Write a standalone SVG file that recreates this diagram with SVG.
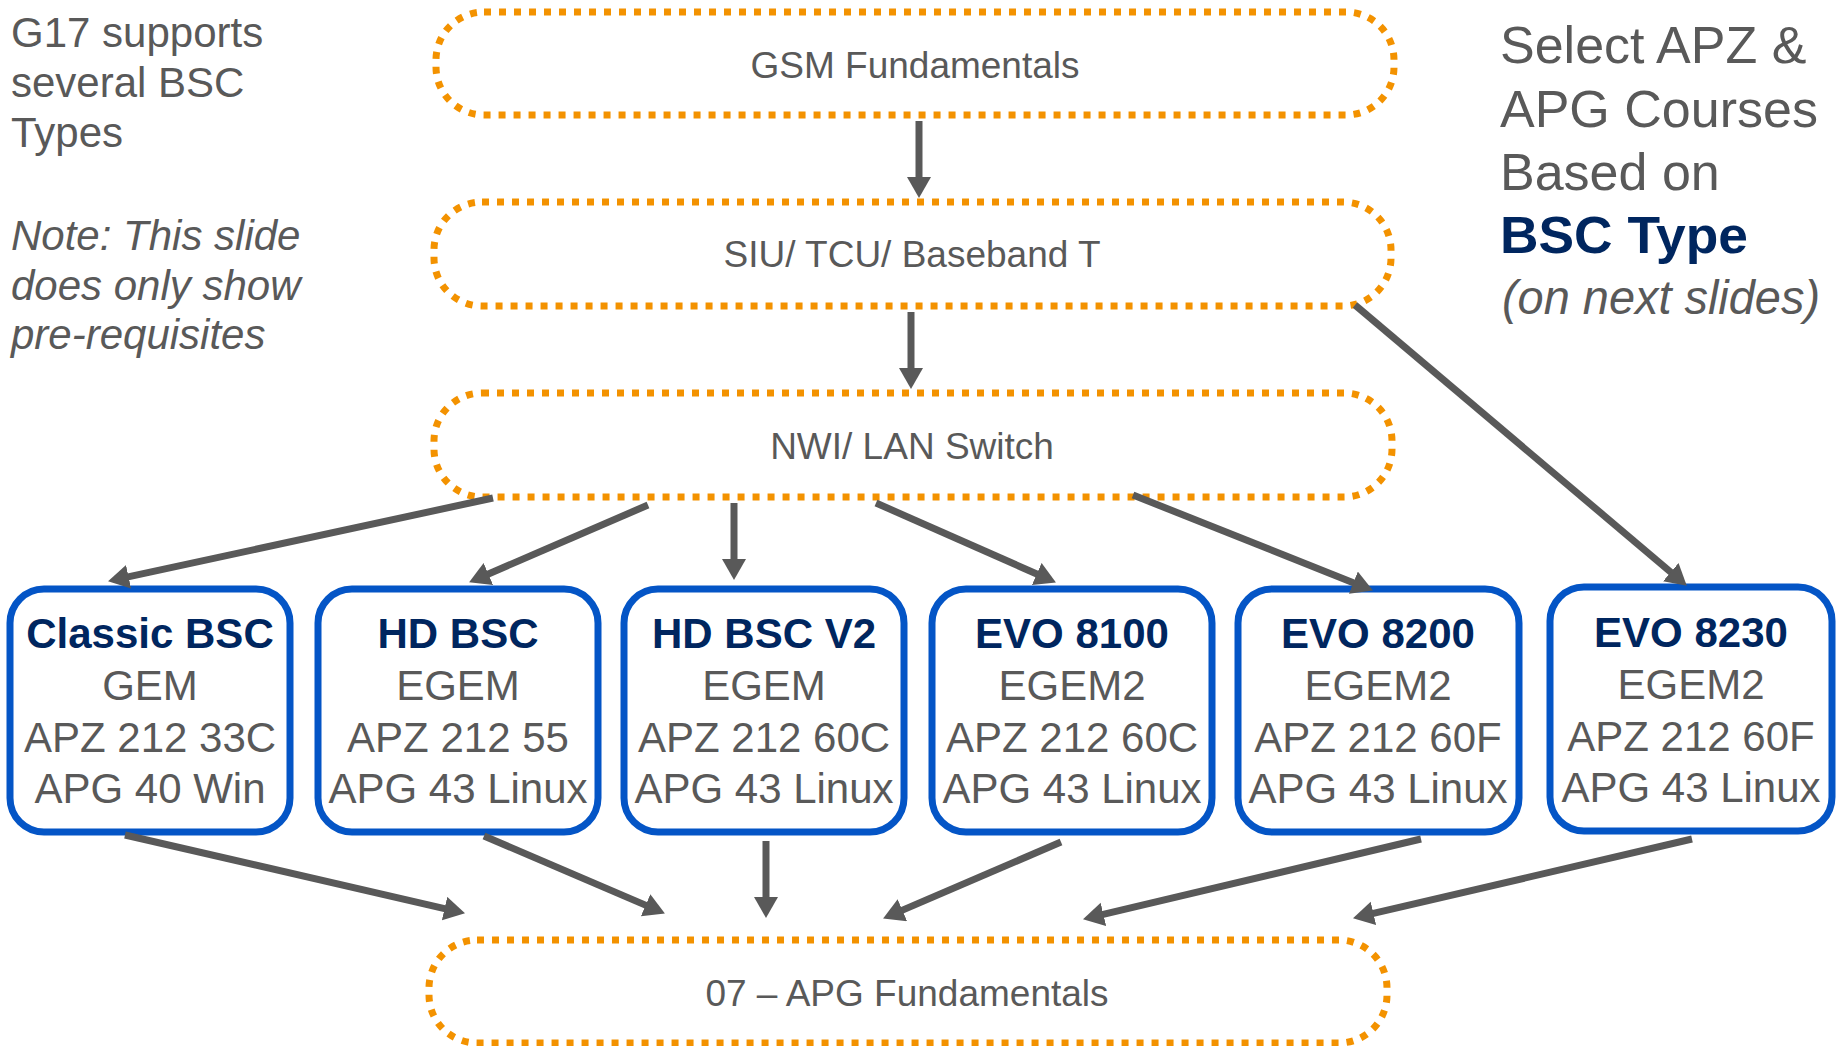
<svg xmlns="http://www.w3.org/2000/svg" width="1839" height="1046" viewBox="0 0 1839 1046">
<defs>
<style>
.bg{fill:#ffffff}
.course{fill:#ffffff;stroke:#F39200;stroke-width:7;stroke-dasharray:7 8}
.bsc{fill:#ffffff;stroke:#0455C6;stroke-width:7}
.t{font-family:"Liberation Sans",Arial,sans-serif;fill:#595959}
.ct{font-size:37px;text-anchor:middle}
.bt{font-size:42px;text-anchor:middle}
.bh{font-weight:bold;fill:#00265F}
.side{font-size:42px}
.right{font-size:52px}
.conn{stroke:#595959;stroke-width:7;fill:none;marker-end:url(#ah)}
</style>
<marker id="ah" markerUnits="userSpaceOnUse" markerWidth="24" markerHeight="26" refX="10" refY="12" orient="auto" viewBox="0 0 24 26">
<path d="M0,0 L21,12 L0,24 Z" fill="#595959"/>
</marker>
</defs>
<rect class="bg" x="0" y="0" width="1839" height="1046"/>

<g id="note-left">
<text class="t side" x="11" y="47">G17 supports</text>
<text class="t side" x="11" y="97">several BSC</text>
<text class="t side" x="11" y="147">Types</text>
<text class="t side" x="11" y="250" font-style="italic">Note: This slide</text>
<text class="t side" x="11" y="300" font-style="italic">does only show</text>
<text class="t side" x="11" y="349" font-style="italic">pre-requisites</text>
</g>

<g id="note-right">
<text class="t right" x="1500" y="63">Select APZ &amp;</text>
<text class="t right" x="1500" y="127">APG Courses</text>
<text class="t right" x="1500" y="190">Based on</text>
<text class="t right bh" x="1500" y="253" textLength="248" lengthAdjust="spacingAndGlyphs">BSC Type</text>
<text class="t" x="1502" y="314" font-size="49" font-style="italic" textLength="318" lengthAdjust="spacingAndGlyphs">(on next slides)</text>
</g>

<g id="gsm">
<rect class="course" x="436" y="12" width="958" height="103" rx="48" ry="48"/>
<text class="t ct" x="915" y="78">GSM Fundamentals</text>
</g>
<g id="siu">
<rect class="course" x="434" y="202" width="957" height="104" rx="48" ry="48"/>
<text class="t ct" x="912" y="267">SIU/ TCU/ Baseband T</text>
</g>
<g id="nwi">
<rect class="course" x="434" y="393" width="958" height="104" rx="48" ry="48"/>
<text class="t ct" x="912" y="459">NWI/ LAN Switch</text>
</g>
<g id="apg">
<rect class="course" x="429" y="940" width="958" height="103" rx="48" ry="48"/>
<text class="t ct" x="907" y="1006">07 – APG Fundamentals</text>
</g>

<g id="classic-bsc">
<rect class="bsc" x="10" y="589" width="280" height="243" rx="34" ry="34"/>
<text class="t bt bh" x="150" y="648">Classic BSC</text>
<text class="t bt" x="150" y="700">GEM</text>
<text class="t bt" x="150" y="752">APZ 212 33C</text>
<text class="t bt" x="150" y="803">APG 40 Win</text>
</g>
<g id="hd-bsc">
<rect class="bsc" x="318" y="589" width="280" height="243" rx="34" ry="34"/>
<text class="t bt bh" x="458" y="648">HD BSC</text>
<text class="t bt" x="458" y="700">EGEM</text>
<text class="t bt" x="458" y="752">APZ 212 55</text>
<text class="t bt" x="458" y="803">APG 43 Linux</text>
</g>
<g id="hd-bsc-v2">
<rect class="bsc" x="624" y="589" width="280" height="243" rx="34" ry="34"/>
<text class="t bt bh" x="764" y="648">HD BSC V2</text>
<text class="t bt" x="764" y="700">EGEM</text>
<text class="t bt" x="764" y="752">APZ 212 60C</text>
<text class="t bt" x="764" y="803">APG 43 Linux</text>
</g>
<g id="evo-8100">
<rect class="bsc" x="932" y="589" width="280" height="243" rx="34" ry="34"/>
<text class="t bt bh" x="1072" y="648">EVO 8100</text>
<text class="t bt" x="1072" y="700">EGEM2</text>
<text class="t bt" x="1072" y="752">APZ 212 60C</text>
<text class="t bt" x="1072" y="803">APG 43 Linux</text>
</g>
<g id="evo-8200">
<rect class="bsc" x="1238" y="589" width="281" height="243" rx="34" ry="34"/>
<text class="t bt bh" x="1378" y="648">EVO 8200</text>
<text class="t bt" x="1378" y="700">EGEM2</text>
<text class="t bt" x="1378" y="752">APZ 212 60F</text>
<text class="t bt" x="1378" y="803">APG 43 Linux</text>
</g>
<g id="evo-8230">
<rect class="bsc" x="1550" y="587" width="282" height="244" rx="34" ry="34"/>
<text class="t bt bh" x="1691" y="647">EVO 8230</text>
<text class="t bt" x="1691" y="699">EGEM2</text>
<text class="t bt" x="1691" y="751">APZ 212 60F</text>
<text class="t bt" x="1691" y="802">APG 43 Linux</text>
</g>

<g id="connectors">
<line class="conn" x1="919" y1="121" x2="919" y2="187"/>
<line class="conn" x1="911" y1="312" x2="911" y2="378"/>
<line class="conn" x1="1355" y1="305" x2="1678.4" y2="578.6"/>
<line class="conn" x1="493" y1="498" x2="118.8" y2="578.9"/>
<line class="conn" x1="648" y1="505" x2="479.2" y2="578"/>
<line class="conn" x1="734" y1="503" x2="734" y2="569"/>
<line class="conn" x1="876" y1="503" x2="1045.9" y2="578"/>
<line class="conn" x1="1133" y1="495" x2="1362.7" y2="586.4"/>
<line class="conn" x1="125" y1="835" x2="454.3" y2="910.8"/>
<line class="conn" x1="484" y1="836" x2="654.8" y2="909.1"/>
<line class="conn" x1="766" y1="841" x2="766" y2="907"/>
<line class="conn" x1="1061" y1="842" x2="893.2" y2="914.1"/>
<line class="conn" x1="1421" y1="839" x2="1093.7" y2="916.7"/>
<line class="conn" x1="1692" y1="839" x2="1363.7" y2="915.7"/>
</g>
</svg>
